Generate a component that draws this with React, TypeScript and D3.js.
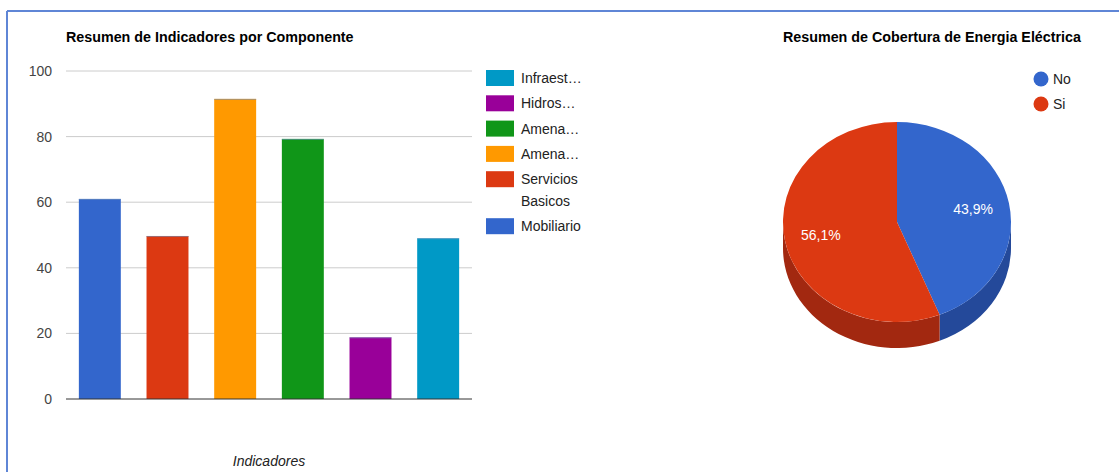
import React from "react";
import * as d3 from "d3";

// ---- Bar chart data ----
const barLabels = ["Mobiliario", "Servicios Basicos", "Amena…", "Amena…", "Hidros…", "Infraest…"];
const barValues = [61, 49.7, 91.5, 79.3, 18.8, 49];
const barColors = ["#3366cc", "#dc3912", "#ff9900", "#109618", "#990099", "#0099c6"];
const yTicks = [0, 20, 40, 60, 80, 100];
// legend shows series in reverse order, with wrapped lines
const legendLines = [["Infraest…"], ["Hidros…"], ["Amena…"], ["Amena…"], ["Servicios", "Basicos"], ["Mobiliario"]];
const legendColors = ["#0099c6", "#990099", "#109618", "#ff9900", "#dc3912", "#3366cc"];

// ---- Pie chart data ----
const pieLabels = ["No", "Si"];
const pieValues = [43.9, 56.1];
const pieColors = ["#3366cc", "#dc3912"];
const pieSideColors = ["#24499a", "#a22810"];

const FONT = "Arial, 'Liberation Sans', sans-serif";

export default function App() {
  const W = 1119, H = 472;
  // bar chart geometry
  const plotL = 66, plotR = 472, plotT = 71, plotB = 399;
  const x = d3.scaleBand<number>().domain(barValues.map((_, i) => i)).range([plotL, plotR]).paddingInner(0.38).paddingOuter(0.19);
  const y = d3.scaleLinear().domain([0, 100]).range([plotB, plotT]);

  // pie geometry
  const cx = 897, cy = 222, rx = 114, ry = 100, depth = 26;
  const pie = d3.pie<number>().sort(null).value((d) => d).startAngle(0).endAngle(2 * Math.PI);
  const arcs = pie(pieValues);
  const arcGen = d3.arc<d3.PieArcDatum<number>>().innerRadius(0).outerRadius(rx);
  const pt = (a: number, dy = 0) => [cx + rx * Math.sin(a), cy - ry * Math.cos(a) + dy];

  const sidePath = (a0: number, a1: number) => {
    const s = Math.max(a0, Math.PI / 2);
    const e = Math.min(a1, (3 * Math.PI) / 2);
    if (e <= s) return null;
    const p0 = pt(s), p1 = pt(e), q1 = pt(e, depth), q0 = pt(s, depth);
    const large = e - s > Math.PI ? 1 : 0;
    return `M${p0[0]},${p0[1]}A${rx},${ry} 0 ${large} 1 ${p1[0]},${p1[1]}L${q1[0]},${q1[1]}A${rx},${ry} 0 ${large} 0 ${q0[0]},${q0[1]}Z`;
  };

  let legendY = 70;
  const legendRows = legendLines.map((lines, i) => {
    const top = legendY;
    legendY += 25.3 + (lines.length - 1) * 21.7;
    return { top, lines, color: legendColors[i] };
  });

  return (
    <svg width={W} height={H} style={{ position: "absolute", left: 0, top: 0, background: "#fff" }} fontFamily={FONT}>
      {/* frame */}
      <line x1={7} y1={11} x2={W} y2={11} stroke="#5f86d6" strokeWidth={2} />
      <line x1={7} y1={11} x2={7} y2={H} stroke="#5f86d6" strokeWidth={2} />

      {/* bar chart */}
      <text x={66} y={42} fontSize={14.3} fontWeight="bold" fill="#000">Resumen de Indicadores por Componente</text>
      {yTicks.map((t) => (
        <g key={t}>
          {t !== 0 && <line x1={plotL} x2={plotR} y1={y(t)} y2={y(t)} stroke="#cccccc" strokeWidth={1} />}
          <text x={52} y={y(t)} dy="0.35em" textAnchor="end" fontSize={14} fill="#444">{t}</text>
        </g>
      ))}
      {barValues.map((v, i) => (
        <g key={i}>
          <rect x={x(i)} y={y(v)} width={x.bandwidth()} height={plotB - y(v)} fill={barColors[i]} />
          <line x1={x(i)} x2={(x(i) as number) + x.bandwidth()} y1={y(v) + 0.5} y2={y(v) + 0.5} stroke="#6f8fb8" strokeOpacity={0.6} strokeWidth={1} />
        </g>
      ))}
      <line x1={plotL} x2={plotR} y1={plotB} y2={plotB} stroke="#333" strokeWidth={1} />
      <text x={(plotL + plotR) / 2} y={466} textAnchor="middle" fontSize={14} fontStyle="italic" fill="#222">Indicadores</text>

      {legendRows.map((r, i) => (
        <g key={i}>
          <rect x={486} y={r.top} width={28} height={16} fill={r.color} />
          {r.lines.map((ln, j) => (
            <text key={j} x={521} y={r.top + 8 + j * 21.7} dy="0.35em" fontSize={14} fill="#222">{ln}</text>
          ))}
        </g>
      ))}

      {/* pie chart */}
      <text x={783} y={42} fontSize={14.3} fontWeight="bold" fill="#000">Resumen de Cobertura de Energia Eléctrica</text>
      {arcs.map((a, i) => {
        const d = sidePath(a.startAngle, a.endAngle);
        return d ? <path key={"s" + i} d={d} fill={pieSideColors[i]} /> : null;
      })}
      <g transform={`translate(${cx},${cy}) scale(1,${ry / rx})`}>
        {arcs.map((a, i) => (
          <path key={"t" + i} d={arcGen(a) || ""} fill={pieColors[i]} />
        ))}
      </g>
      {arcs.map((a, i) => {
        const m = (a.startAngle + a.endAngle) / 2;
        const lr = 0.68;
        const lx = cx + rx * lr * Math.sin(m);
        const ly = cy - ry * lr * Math.cos(m);
        return (
          <text key={"l" + i} x={lx} y={ly} dy="0.35em" textAnchor="middle" fontSize={14} fill="#fff">
            {pieValues[i].toFixed(1).replace(".", ",")}%
          </text>
        );
      })}
      {pieLabels.map((l, i) => (
        <g key={l}>
          <circle cx={1041} cy={79 + i * 25} r={7.5} fill={pieColors[i]} />
          <text x={1053} y={79 + i * 25} dy="0.35em" fontSize={14} fill="#222">{l}</text>
        </g>
      ))}
    </svg>
  );
}
